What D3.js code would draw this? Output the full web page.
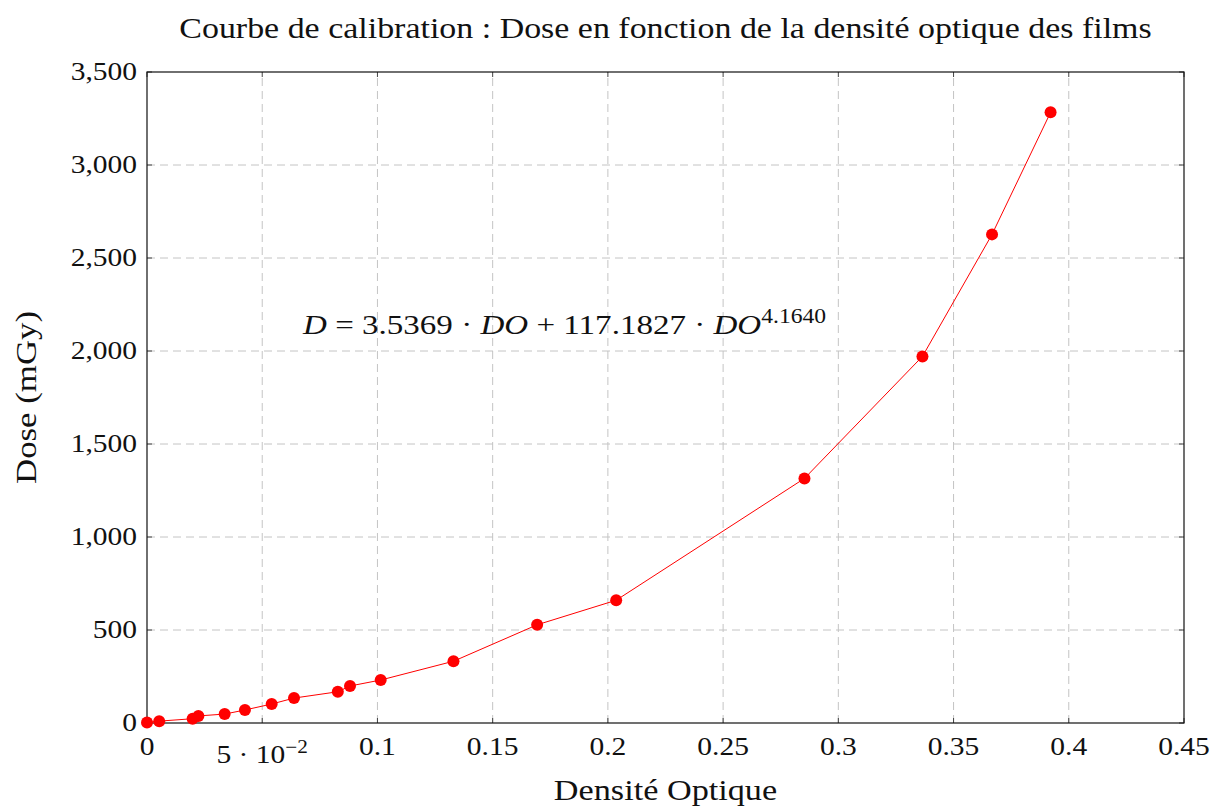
<!DOCTYPE html>
<html>
  <head>
    <meta charset="utf-8">
    <title>Courbe de calibration</title>
    <script src="https://d3js.org/d3.v7.min.js"></script>
    <style>
      body { margin: 0; background: #fff; }
      svg text { font-family: "Liberation Serif", "DejaVu Serif", serif; fill: #111; }
    </style>
  </head>
  <body>
    <div id="chart"></div>
    <script>
      // optical density (x) and dose in mGy (y)
      var densite = [0, 0.0053, 0.0198, 0.0223, 0.0337, 0.0425, 0.0541, 0.0638, 0.0828, 0.0881, 0.1014,
                     0.133, 0.1693, 0.2036, 0.2853, 0.3365, 0.3667, 0.3921];
      var dose = [3, 10, 23, 38, 48, 70, 102, 134, 168, 199, 231,
                  332, 528, 660, 1315, 1971, 2627, 3283];
      var xTicks = [0, 0.05, 0.1, 0.15, 0.2, 0.25, 0.3, 0.35, 0.4, 0.45];
      var yTicks = [0, 500, 1000, 1500, 2000, 2500, 3000, 3500];

      var width = 1213, height = 807;
      var margin = {top: 72, right: 29, bottom: 84, left: 147};

      var svg = d3.select("#chart").append("svg")
        .attr("width", width)
        .attr("height", height);

      var x = d3.scaleLinear().domain([0, 0.45]).range([margin.left, width - margin.right]);
      var y = d3.scaleLinear().domain([0, 3500]).range([height - margin.bottom, margin.top]);

      // widen Liberation Serif a bit so it takes the room of Computer Modern
      function stretch(sel, k) {
        sel.each(function() {
          var len = this.getComputedTextLength();
          d3.select(this).attr("textLength", len * k).attr("lengthAdjust", "spacingAndGlyphs");
        });
      }

      // grid
      svg.append("g").selectAll("line").data(xTicks.slice(1, -1)).enter().append("line")
        .attr("x1", d => x(d)).attr("x2", d => x(d))
        .attr("y1", y(0)).attr("y2", y(3500))
        .attr("stroke", "#c4c4c4").attr("stroke-dasharray", "8,5");
      svg.append("g").selectAll("line").data(yTicks.slice(1, -1)).enter().append("line")
        .attr("y1", d => y(d)).attr("y2", d => y(d))
        .attr("x1", x(0)).attr("x2", x(0.45))
        .attr("stroke", "#c4c4c4").attr("stroke-dasharray", "8,5");

      // inner ticks on all four sides
      var tk = svg.append("g").attr("stroke", "#444");
      xTicks.forEach(function(t) {
        tk.append("line").attr("x1", x(t)).attr("x2", x(t)).attr("y1", y(0)).attr("y2", y(0) - 5);
        tk.append("line").attr("x1", x(t)).attr("x2", x(t)).attr("y1", y(3500)).attr("y2", y(3500) + 5);
      });
      yTicks.forEach(function(t) {
        tk.append("line").attr("y1", y(t)).attr("y2", y(t)).attr("x1", x(0)).attr("x2", x(0) + 5);
        tk.append("line").attr("y1", y(t)).attr("y2", y(t)).attr("x1", x(0.45)).attr("x2", x(0.45) - 5);
      });

      // frame
      svg.append("rect")
        .attr("x", x(0)).attr("y", y(3500))
        .attr("width", x(0.45) - x(0)).attr("height", y(0) - y(3500))
        .attr("fill", "none").attr("stroke", "#111").attr("stroke-width", 1.2);

      // tick labels
      var fmt = d3.format(",");
      var yl = svg.append("g").selectAll("text").data(yTicks).enter().append("text")
        .attr("x", x(0) - 10).attr("y", d => y(d) + 8)
        .attr("text-anchor", "end").attr("font-size", 25)
        .text(d => fmt(d));
      stretch(yl, 1.18);

      var xl = svg.append("g").selectAll("text").data(xTicks).enter().append("text")
        .attr("x", d => x(d)).attr("y", d => d === 0.05 ? y(0) + 40 : y(0) + 32)
        .attr("text-anchor", "middle").attr("font-size", 25);
      xl.each(function(d) {
        var t = d3.select(this);
        if (d === 0.05) {
          t.append("tspan").text("5 · 10");
          t.append("tspan").attr("dy", -10).attr("font-size", 18).text("−2");
        } else {
          t.text(d3.format("")(d));
        }
      });
      stretch(xl, 1.18);

      // line + markers
      var pts = densite.map((d, i) => [d, dose[i]]);
      svg.append("path").datum(pts)
        .attr("fill", "none").attr("stroke", "#ff0000").attr("stroke-width", 1)
        .attr("d", d3.line().x(d => x(d[0])).y(d => y(d[1])));
      svg.append("g").selectAll("circle").data(pts).enter().append("circle")
        .attr("cx", d => x(d[0])).attr("cy", d => y(d[1])).attr("r", 6)
        .attr("fill", "#ff0000");

      // equation
      var eq = svg.append("text").attr("x", 303).attr("y", 334).attr("font-size", 28);
      eq.append("tspan").attr("font-style", "italic").text("D");
      eq.append("tspan").text(" = 3.5369 · ");
      eq.append("tspan").attr("font-style", "italic").text("DO");
      eq.append("tspan").text(" + 117.1827 · ");
      eq.append("tspan").attr("font-style", "italic").text("DO");
      eq.append("tspan").attr("dy", -11).attr("font-size", 20).text("4.1640");
      stretch(eq, 1.18);

      // titles
      var title = svg.append("text").attr("x", x(0.225)).attr("y", 38)
        .attr("text-anchor", "middle").attr("font-size", 29)
        .text("Courbe de calibration : Dose en fonction de la densité optique des films");
      stretch(title, 1.17);
      var xlab = svg.append("text").attr("x", x(0.225)).attr("y", 800)
        .attr("text-anchor", "middle").attr("font-size", 29)
        .text("Densité Optique");
      stretch(xlab, 1.18);
      var ylab = svg.append("text")
        .attr("transform", "translate(36," + y(1750) + ") rotate(-90)")
        .attr("text-anchor", "middle").attr("font-size", 29)
        .text("Dose (mGy)");
      stretch(ylab, 1.2);
    </script>
  </body>
</html>
